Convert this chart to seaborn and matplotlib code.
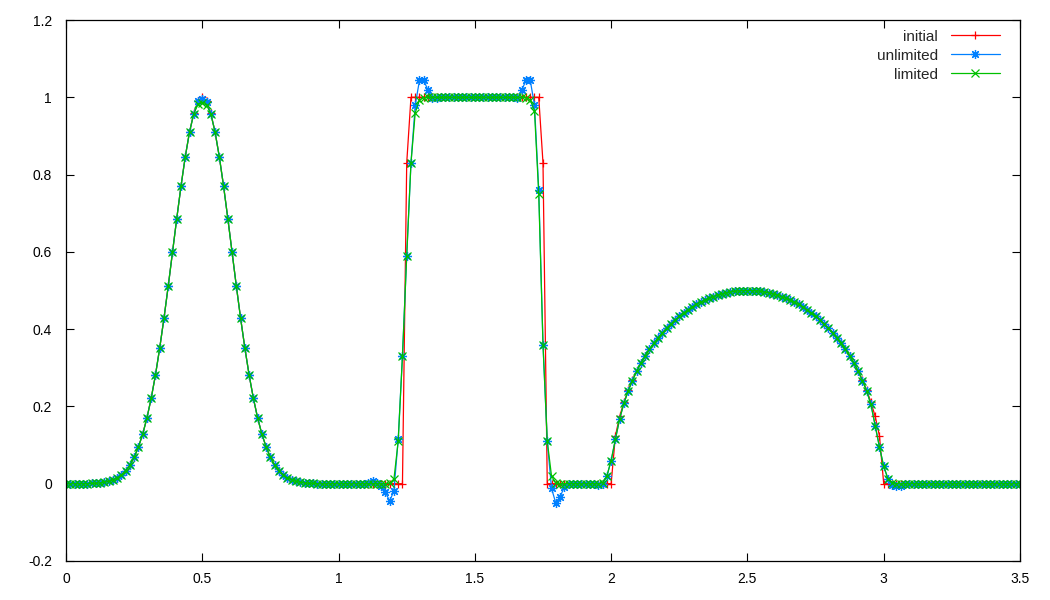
# advection test: initial data vs unlimited / limited solutions
import numpy as np
import matplotlib
matplotlib.use("Agg")
import matplotlib.pyplot as plt
from matplotlib.ticker import FormatStrFormatter
import seaborn as sns


##########################################################
# data (225 points, spacing 1/64 on [0, 3.5])

x = np.arange(225) / 64

initial = [
    0, 0, 0, 0, 0, 0, 0.001, 0.001, 0.002, 0.004, 0.006, 0.010, 0.015, 0.023, 0.034, 0.048,
    0.068, 0.095, 0.128, 0.170, 0.221, 0.281, 0.351, 0.428, 0.511, 0.599, 0.686, 0.770, 0.846, 0.910, 0.959, 0.990,
    1.000, 0.990, 0.959, 0.910, 0.846, 0.770, 0.686, 0.599, 0.511, 0.428, 0.351, 0.281, 0.221, 0.170, 0.128, 0.095,
    0.068, 0.048, 0.034, 0.023, 0.015, 0.010, 0.006, 0.004, 0.002, 0.001, 0.001, 0, 0, 0, 0, 0,
    0, 0, 0, 0, 0, 0, 0, 0, 0, 0, 0, 0, 0, 0, 0, 0,
    0.83, 1, 1, 1, 1, 1, 1, 1, 1, 1, 1, 1, 1, 1, 1, 1,
    1, 1, 1, 1, 1, 1, 1, 1, 1, 1, 1, 1, 1, 1, 1, 1,
    0.83, 0, 0, 0, 0, 0, 0, 0, 0, 0, 0, 0, 0, 0, 0, 0,
    0, 0.124, 0.174, 0.211, 0.242, 0.268, 0.292, 0.312, 0.331, 0.348, 0.363, 0.377, 0.390, 0.402, 0.413, 0.424,
    0.433, 0.442, 0.450, 0.457, 0.464, 0.470, 0.475, 0.480, 0.484, 0.488, 0.491, 0.494, 0.496, 0.498, 0.499, 0.500,
    0.500, 0.500, 0.499, 0.498, 0.496, 0.494, 0.491, 0.488, 0.484, 0.480, 0.475, 0.470, 0.464, 0.457, 0.450, 0.442,
    0.433, 0.424, 0.413, 0.402, 0.390, 0.377, 0.363, 0.348, 0.331, 0.312, 0.292, 0.268, 0.242, 0.211, 0.174, 0.124,
    0, 0, 0, 0, 0, 0, 0, 0, 0, 0, 0, 0, 0, 0, 0, 0,
    0, 0, 0, 0, 0, 0, 0, 0, 0, 0, 0, 0, 0, 0, 0, 0,
    0,
]

unlimited = [
    0, 0, 0, 0, 0, 0, 0.001, 0.001, 0.002, 0.004, 0.006, 0.010, 0.015, 0.023, 0.034, 0.048,
    0.068, 0.095, 0.128, 0.170, 0.221, 0.281, 0.351, 0.428, 0.511, 0.599, 0.686, 0.770, 0.846, 0.910, 0.958, 0.990,
    0.996, 0.988, 0.958, 0.910, 0.846, 0.770, 0.686, 0.599, 0.511, 0.428, 0.351, 0.281, 0.221, 0.170, 0.128, 0.095,
    0.068, 0.048, 0.034, 0.023, 0.015, 0.010, 0.006, 0.004, 0.002, 0.001, 0.001, 0, 0, 0, 0, 0,
    0, 0, 0, 0, 0, 0, 0, 0.003, 0.006, 0.003, -0.005, -0.022, -0.045, -0.018, 0.115, 0.33,
    0.59, 0.83, 0.98, 1.044, 1.044, 1.018, 0.998, 0.997, 1, 1, 1, 1, 1, 1, 1, 1,
    1, 1, 1, 1, 1, 1, 1, 1, 1, 1, 0.997, 1.018, 1.044, 1.044, 0.98, 0.76,
    0.36, 0.11, -0.012, -0.05, -0.035, -0.008, -0.002, 0, 0, 0, 0, 0, 0, -0.004, -0.002, 0.02,
    0.06, 0.115, 0.168, 0.208, 0.240, 0.267, 0.291, 0.312, 0.331, 0.348, 0.363, 0.377, 0.390, 0.402, 0.413, 0.424,
    0.433, 0.442, 0.450, 0.457, 0.464, 0.470, 0.475, 0.480, 0.484, 0.488, 0.491, 0.494, 0.496, 0.498, 0.499, 0.500,
    0.500, 0.500, 0.499, 0.498, 0.496, 0.494, 0.491, 0.488, 0.484, 0.480, 0.475, 0.470, 0.464, 0.457, 0.450, 0.442,
    0.433, 0.424, 0.413, 0.402, 0.390, 0.377, 0.363, 0.348, 0.331, 0.312, 0.291, 0.267, 0.240, 0.205, 0.150, 0.095,
    0.045, 0.012, -0.004, -0.007, -0.005, -0.002, 0, 0, 0, 0, 0, 0, 0, 0, 0, 0,
    0, 0, 0, 0, 0, 0, 0, 0, 0, 0, 0, 0, 0, 0, 0, 0,
    0,
]

limited = [
    0, 0, 0, 0, 0, 0, 0.001, 0.001, 0.002, 0.004, 0.006, 0.010, 0.015, 0.023, 0.034, 0.048,
    0.068, 0.095, 0.128, 0.170, 0.221, 0.281, 0.351, 0.428, 0.511, 0.599, 0.686, 0.770, 0.846, 0.910, 0.957, 0.982,
    0.986, 0.980, 0.957, 0.910, 0.846, 0.770, 0.686, 0.599, 0.511, 0.428, 0.351, 0.281, 0.221, 0.170, 0.128, 0.095,
    0.068, 0.048, 0.034, 0.023, 0.015, 0.010, 0.006, 0.004, 0.002, 0.001, 0.001, 0, 0, 0, 0, 0,
    0, 0, 0, 0, 0, 0, 0, 0, 0, 0, 0, 0, 0.002, 0.012, 0.11, 0.33,
    0.59, 0.83, 0.96, 0.993, 0.999, 1, 1, 1, 1, 1, 1, 1, 1, 1, 1, 1,
    1, 1, 1, 1, 1, 1, 1, 1, 1, 1, 1, 1, 0.999, 0.993, 0.965, 0.75,
    0.36, 0.11, 0.02, 0.002, 0, 0, 0, 0, 0, 0, 0, 0, 0, 0, 0.003, 0.02,
    0.06, 0.115, 0.168, 0.208, 0.240, 0.267, 0.291, 0.312, 0.331, 0.348, 0.363, 0.377, 0.390, 0.402, 0.413, 0.424,
    0.433, 0.442, 0.450, 0.457, 0.464, 0.470, 0.475, 0.480, 0.484, 0.488, 0.491, 0.494, 0.496, 0.498, 0.499, 0.500,
    0.500, 0.500, 0.499, 0.498, 0.496, 0.494, 0.491, 0.488, 0.484, 0.480, 0.475, 0.470, 0.464, 0.457, 0.450, 0.442,
    0.433, 0.424, 0.413, 0.402, 0.390, 0.377, 0.363, 0.348, 0.331, 0.312, 0.291, 0.267, 0.240, 0.205, 0.150, 0.095,
    0.045, 0.013, 0.003, 0, 0, 0, 0, 0, 0, 0, 0, 0, 0, 0, 0, 0,
    0, 0, 0, 0, 0, 0, 0, 0, 0, 0, 0, 0, 0, 0, 0, 0,
    0,
]

xticks = [0, 0.5, 1, 1.5, 2, 2.5, 3, 3.5]
yticks = [-0.2, 0, 0.2, 0.4, 0.6, 0.8, 1, 1.2]


##########################################################
# figure

sns.set_style("ticks")
plt.rcParams['font.family'] = ['Liberation Sans', 'DejaVu Sans']

fig = plt.figure(figsize=(10.5, 6), dpi=100)
ax = fig.add_axes([66 / 1050, 39 / 600, 954 / 1050, 541 / 600])

series = [
    (initial, 'initial', '#ff0000', '+', 5.5),
    (unlimited, 'unlimited', '#0080ff', (8, 2, 0), 6.5),
    (limited, 'limited', '#00c000', 'x', 5.5),
]
for vals, name, col, mk, ms in series:
    sns.lineplot(x=x, y=vals, ax=ax, color=col, marker=mk, markersize=ms,
                 markeredgewidth=0.9, markeredgecolor=col, markerfacecolor='none',
                 linewidth=0.9, label=name, estimator=None, sort=False)

ax.set_xlim(0, 3.5)
ax.set_ylim(-0.2, 1.2)
ax.set_xticks(xticks)
ax.set_yticks(yticks)
ax.xaxis.set_major_formatter(FormatStrFormatter('%g'))
ax.yaxis.set_major_formatter(FormatStrFormatter('%g'))
ax.tick_params(direction='in', top=True, right=True, length=6, width=0.8,
               labelsize=10, colors='black')
ax.tick_params(axis='x', pad=8)
ax.tick_params(axis='y', pad=10)
for s in ax.spines.values():
    s.set_visible(True)
    s.set_linewidth(0.9)
    s.set_color('black')
ax.set_xlabel('')
ax.set_ylabel('')

ax.legend(loc='upper right', bbox_to_anchor=(0.985, 0.9935), frameon=False,
          markerfirst=False, fontsize=11, handlelength=3.2, handletextpad=0.85,
          labelspacing=0.33, borderaxespad=0, numpoints=1)

fig.savefig('out.png', dpi=100)
